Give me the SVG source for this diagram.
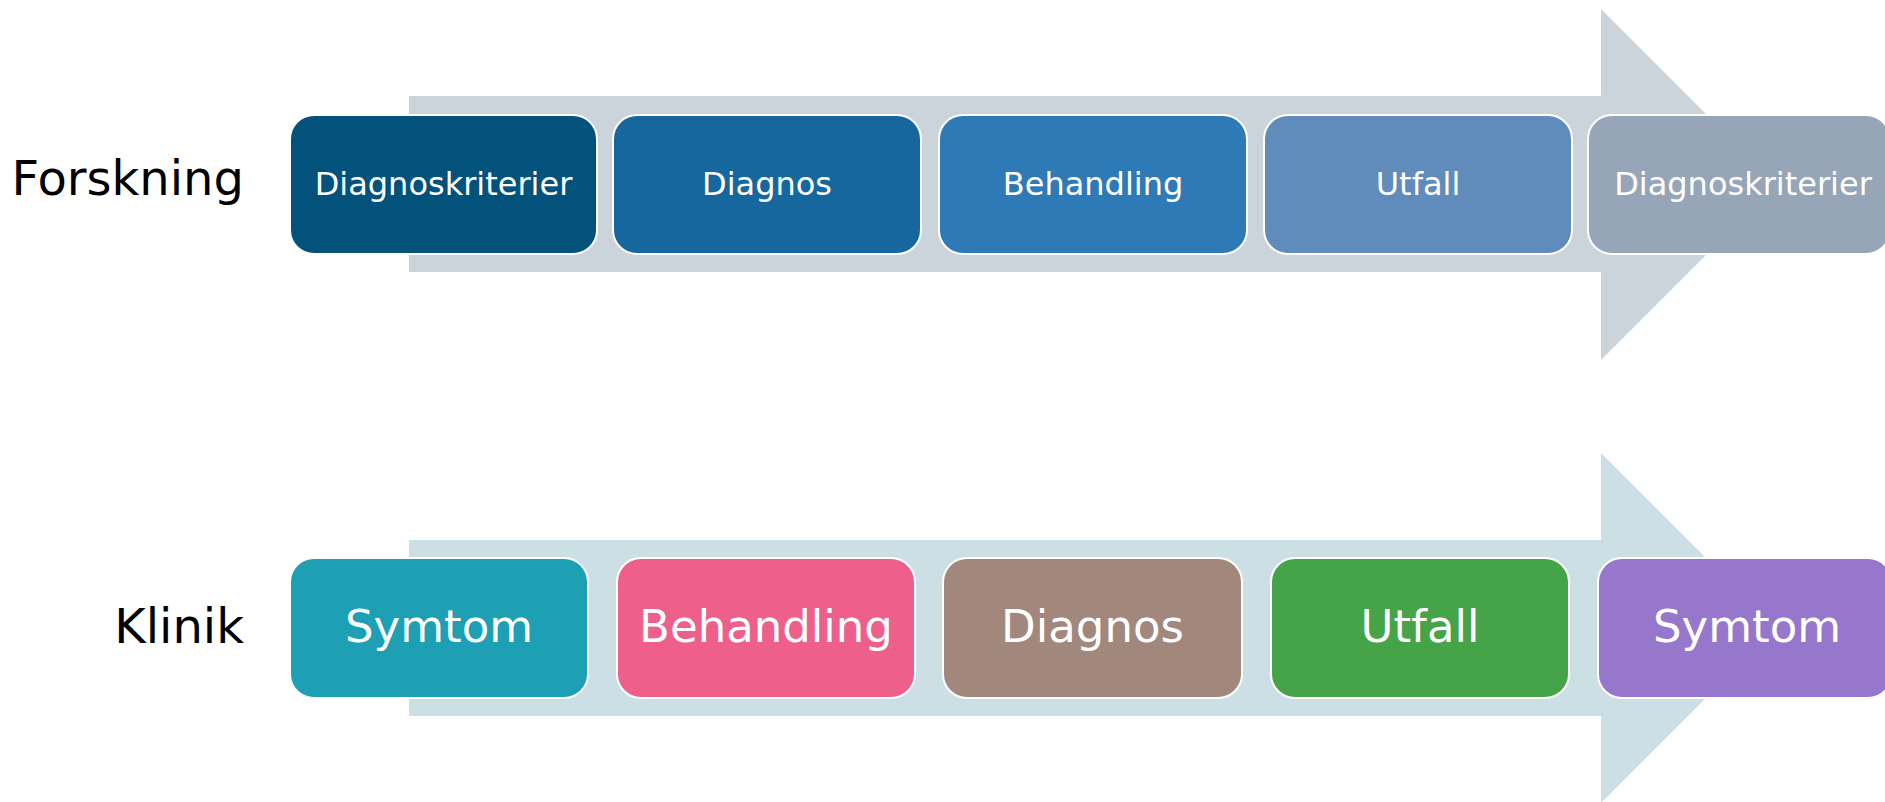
<svg xmlns="http://www.w3.org/2000/svg" width="1885" height="802" viewBox="0 0 1885 802">
  <style>
    .lane { font-family: "DejaVu Sans", Verdana, sans-serif; font-size: 48px; fill: #000; text-anchor: end; }
    .box { stroke: #ffffff; stroke-width: 2; }
    .t1 { font-family: "DejaVu Sans", Verdana, sans-serif; font-size: 32px; fill: #ffffff; text-anchor: middle; }
    .t2 { font-family: "DejaVu Sans", Verdana, sans-serif; font-size: 45px; fill: #ffffff; text-anchor: middle; }
  </style>
  <rect width="1885" height="802" fill="#ffffff"/>

  <!-- background flow arrows -->
  <g id="connectors">
    <polygon points="409,96 1601,96 1601,9 1776.5,184.5 1601,360 1601,272 409,272" fill="#CBD3DB"/>
    <polygon points="409,540 1601,540 1601,453 1776,628 1601,803 1601,716 409,716" fill="#CCDFE4"/>
  </g>

  <!-- lane labels -->
  <text class="lane" x="244" y="195">Forskning</text>
  <text class="lane" x="244" y="643">Klinik</text>

  <!-- research row -->
  <g id="f1"><rect class="box" x="290" y="115" width="307" height="139" rx="24" fill="#02527C"/><text class="t1" x="443.5" y="195">Diagnoskriterier</text></g>
  <g id="f2"><rect class="box" x="613" y="115" width="308" height="139" rx="24" fill="#15679E"/><text class="t1" x="767" y="195">Diagnos</text></g>
  <g id="f3"><rect class="box" x="939" y="115" width="308" height="139" rx="24" fill="#2E7AB6"/><text class="t1" x="1093" y="195">Behandling</text></g>
  <g id="f4"><rect class="box" x="1264" y="115" width="308" height="139" rx="24" fill="#5F8CBA"/><text class="t1" x="1418" y="195">Utfall</text></g>
  <g id="f5"><rect class="box" x="1588" y="115" width="302" height="139" rx="24" fill="#96A5B8"/><text class="t1" x="1743" y="195">Diagnoskriterier</text></g>

  <!-- clinical row -->
  <g id="k1"><rect class="box" x="290" y="558" width="298" height="140" rx="24" fill="#1DA0B4"/><text class="t2" x="439" y="642">Symtom</text></g>
  <g id="k2"><rect class="box" x="617" y="558" width="298" height="140" rx="24" fill="#EE5F8B"/><text class="t2" x="766" y="642">Behandling</text></g>
  <g id="k3"><rect class="box" x="943" y="558" width="299" height="140" rx="24" fill="#A2877D"/><text class="t2" x="1092.5" y="642">Diagnos</text></g>
  <g id="k4"><rect class="box" x="1271" y="558" width="298" height="140" rx="24" fill="#44A447"/><text class="t2" x="1420" y="642">Utfall</text></g>
  <g id="k5"><rect class="box" x="1598" y="558" width="294" height="140" rx="24" fill="#9777CC"/><text class="t2" x="1747" y="642">Symtom</text></g>
</svg>
